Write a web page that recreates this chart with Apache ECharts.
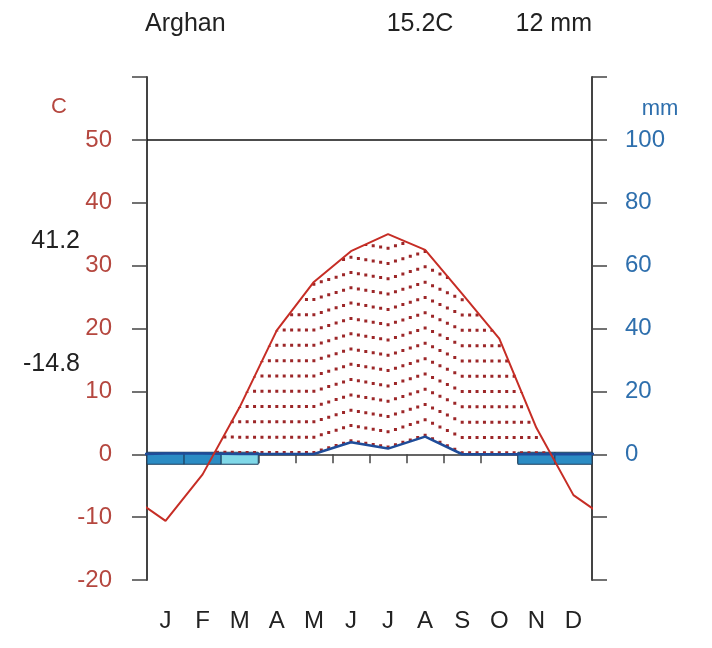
<!DOCTYPE html>
<html><head><meta charset="utf-8">
<script src="https://cdn.jsdelivr.net/npm/echarts@6/dist/echarts.min.js"></script>
<style>html,body{margin:0;padding:0;background:#fff}#c{width:712px;height:648px}</style>
</head><body><div id="c"></div>
<script>
const station = 'Arghan';
const months = ['J','F','M','A','M','J','J','A','S','O','N','D'];
const temperature = [-10.6, -3.2, 7.5, 19.7, 27.4, 32.3, 35.0, 32.5, 25.5, 18.4, 4.2, -6.5];
const precipitation = [0.2, 0.2, 0.1, 0.1, 0.1, 3.8, 1.8, 5.6, 0, 0, 0, 0];
const frost = [2, 2, 1, 0, 0, 0, 0, 0, 0, 0, 2, 2]; // 2 = certain frost, 1 = probable frost
const tempTicks = [-20, -10, 0, 10, 20, 30, 40, 50];
const precipTicks = [0, 20, 40, 60, 80, 100];
const meanTempText = '15.2C';
const totalPrecipText = '12 mm';
const absMaxText = '41.2';
const absMinText = '-14.8';

const FONT = '"Liberation Sans", Arial, sans-serif';
const TCOL = '#c62d25', PCOL = '#1f4c99';
const LABEL_T = '#b5473f', LABEL_P = '#2e6fad';
const AX = '#444';

// wrap-around series (Dec before Jan, Jan after Dec), clipped by the grid
function wrapped(arr) {
  const out = [[-0.5, arr[11]]];
  arr.forEach((v, i) => out.push([i + 0.5, v]));
  out.push([12.5, arr[0]]);
  return out;
}
const tWrap = wrapped(temperature);
const pWrap = wrapped(precipitation);
function lin(pts, x) {
  for (let i = 0; i < pts.length - 1; i++) {
    const a = pts[i], b = pts[i + 1];
    if (x >= a[0] && x <= b[0]) return a[1] + (b[1] - a[1]) * (x - a[0]) / (b[0] - a[0]);
  }
  return 0;
}
const columns = Array.from({length: 60}, (_, k) => [0.1 + 0.2 * k]);

const chart = echarts.init(document.getElementById('c'), null, {renderer: 'canvas'});
chart.setOption({
  animation: false,
  backgroundColor: '#fff',
  grid: {left: 147, right: 120, top: 77, bottom: 68},
  xAxis: [{
    type: 'value', min: 0, max: 12, interval: 1,
    axisLine: {show: true, onZero: true, lineStyle: {color: '#333', width: 1.5}},
    axisTick: {show: true, length: 9, lineStyle: {color: AX, width: 1.5}},
    axisLabel: {show: false}, splitLine: {show: false}
  }, {
    type: 'category', data: months, position: 'bottom', boundaryGap: true,
    axisLine: {show: false, onZero: false}, axisTick: {show: false},
    axisLabel: {fontFamily: FONT, fontSize: 24, color: '#222', margin: 29}
  }],
  yAxis: [{
    type: 'value', min: -20, max: 60, interval: 10, position: 'left',
    axisLine: {show: true, lineStyle: {color: AX, width: 2}},
    axisTick: {show: true, length: 15, lineStyle: {color: AX, width: 1.5}},
    axisLabel: {fontFamily: FONT, fontSize: 24, color: LABEL_T, margin: 35,
      formatter: v => tempTicks.includes(v) ? String(v) : ''},
    splitLine: {show: false}
  }, {
    type: 'value', min: -40, max: 120, interval: 20, position: 'right',
    axisLine: {show: true, lineStyle: {color: AX, width: 2}},
    axisTick: {show: true, length: 15, lineStyle: {color: AX, width: 1.5}},
    axisLabel: {fontFamily: FONT, fontSize: 24, color: LABEL_P, margin: 33,
      formatter: v => precipTicks.includes(v) ? String(v) : ''},
    splitLine: {show: false}
  }],
  series: [{
    type: 'custom', name: 'frost', xAxisIndex: 0, yAxisIndex: 0, z: 1,
    data: frost.map((f, i) => [i, f]),
    renderItem: (params, api) => {
      const i = api.value(0), f = api.value(1);
      if (!f) return null;
      const a = api.coord([i, 0]), b = api.coord([i + 1, 0]);
      return {type: 'rect', shape: {x: a[0], y: a[1] - 2, width: b[0] - a[0], height: 12},
        style: {fill: f === 2 ? '#2b8cc4' : '#80d8e8', stroke: '#1d3f5e', lineWidth: 1}};
    }
  }, {
    type: 'custom', name: 'dry', xAxisIndex: 0, yAxisIndex: 0, z: 2,
    data: columns,
    encode: {x: 0},
    renderItem: (params, api) => {
      const x = api.value(0);
      const t = Math.max(0, lin(tWrap, x));
      const p = Math.max(0, lin(pWrap, x) / 2);
      if (t <= p) return null;
      const a = api.coord([x, p]), b = api.coord([x, t]);
      return {type: 'line', shape: {x1: a[0], y1: a[1], x2: b[0], y2: b[1]},
        style: {stroke: '#9c2628', lineWidth: 3, lineDash: [3, 12.3], lineCap: 'butt'}};
    }
  }, {
    type: 'line', name: 'precip', xAxisIndex: 0, yAxisIndex: 1, z: 3,
    data: pWrap, showSymbol: false, symbol: 'none', clip: true,
    lineStyle: {color: PCOL, width: 2.5}
  }, {
    type: 'line', name: 'temp', xAxisIndex: 0, yAxisIndex: 0, z: 4,
    data: tWrap, showSymbol: false, symbol: 'none', clip: true,
    lineStyle: {color: TCOL, width: 2},
    markLine: {silent: true, symbol: 'none', label: {show: false},
      lineStyle: {color: '#111', width: 1.5, type: 'solid'},
      data: [{yAxis: 50}]}
  }],
  graphic: [
    {type: 'text', x: 145, y: 24, style: {text: station, font: '25px ' + FONT, fill: '#222', align: 'left', verticalAlign: 'middle'}},
    {type: 'text', x: 420, y: 24, style: {text: meanTempText, font: '25px ' + FONT, fill: '#222', align: 'center', verticalAlign: 'middle'}},
    {type: 'text', x: 592, y: 24, style: {text: totalPrecipText, font: '25px ' + FONT, fill: '#222', align: 'right', verticalAlign: 'middle'}},
    {type: 'text', x: 59, y: 107, style: {text: 'C', font: '22px ' + FONT, fill: LABEL_T, align: 'center', verticalAlign: 'middle'}},
    {type: 'text', x: 660, y: 109, style: {text: 'mm', font: '22px ' + FONT, fill: LABEL_P, align: 'center', verticalAlign: 'middle'}},
    {type: 'text', x: 80, y: 241, style: {text: absMaxText, font: '25px ' + FONT, fill: '#222', align: 'right', verticalAlign: 'middle'}},
    {type: 'text', x: 80, y: 364, style: {text: absMinText, font: '25px ' + FONT, fill: '#222', align: 'right', verticalAlign: 'middle'}}
  ]
});
</script></body></html>
